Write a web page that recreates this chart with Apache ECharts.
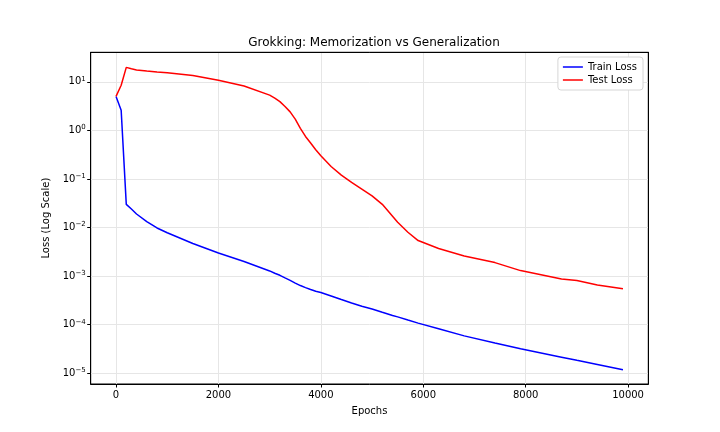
<!DOCTYPE html>
<html>
<head>
<meta charset="utf-8">
<script src="https://cdn.jsdelivr.net/npm/echarts@6/dist/echarts.min.js"></script>
<style>
  html, body { margin: 0; padding: 0; background: #fff; }
  #chart { width: 720px; height: 432px; }
</style>
</head>
<body>
<div id="chart"></div>
<script>
// epochs
var epochs = [0, 100, 200, 300, 400, 600, 800, 1000, 1500, 2000, 2500, 3000, 3100, 3200, 3300, 3400, 3500, 3600, 3700, 3800, 3900,
              4000, 4200, 4400, 4600, 4800, 5000, 5200, 5400, 5500, 5700, 5900, 6300, 6800, 7400, 7900, 8700, 9000, 9400, 9900]

var trainLoss = [5.0, 2.6, 0.030, 0.024, 0.019, 0.0132, 0.0098, 0.0078, 0.0047, 0.0030, 0.0020, 0.00128, 0.00115, 0.00104, 0.00092, 0.00082, 0.00072, 0.00064, 0.00058, 0.00053, 0.00049,
                 0.00046, 0.00039, 0.00033, 0.00028, 0.00024, 0.00021, 0.00018, 0.000155, 0.000145, 0.000125, 0.000108, 0.000083, 0.000059, 0.000042, 0.000032, 0.0000215, 0.0000185, 0.0000152, 0.0000118]

var testLoss = [5.0, 8.5, 19.8, 18.5, 17.5, 16.6, 15.9, 15.3, 13.5, 10.7, 8.2, 5.3, 4.6, 3.9, 3.1, 2.4, 1.7, 1.1, 0.75, 0.55, 0.40,
                0.30, 0.18, 0.12, 0.085, 0.062, 0.045, 0.030, 0.017, 0.0128, 0.008, 0.0054, 0.0037, 0.0026, 0.0019, 0.0013, 0.00087, 0.00081, 0.00066, 0.00055]

var xTicks = [0, 2000, 4000, 6000, 8000, 10000]

function pairs(ys) {
    return epochs.map(function (x, i) { return [x, ys[i]] })
}

var font = 'DejaVu Sans'
var myChart = echarts.init(document.getElementById('chart'), null, { renderer: 'canvas' })

var option = {
    animation: false,
    backgroundColor: '#fff',
    textStyle: { fontFamily: font },
    title: {
        text: 'Grokking: Memorization vs Generalization',
        left: 369,
        textAlign: 'center',
        top: 32,
        textStyle: { fontFamily: font, fontSize: 12, fontWeight: 'normal', color: '#000' }
    },
    legend: {
        orient: 'vertical',
        right: 77,
        top: 57,
        icon: 'rect',
        itemWidth: 20,
        itemHeight: 1.5,
        itemGap: 3,
        padding: [5, 6, 5, 5],
        borderColor: '#d6d6d6',
        borderWidth: 1,
        borderRadius: 3,
        backgroundColor: '#fff',
        textStyle: { fontFamily: font, fontSize: 10, color: '#000' },
        data: ['Train Loss', 'Test Loss']
    },
    grid: {
        left: 90.7,
        right: 71.7,
        top: 52.3,
        bottom: 48,
        show: true,
        borderColor: '#000',
        borderWidth: 1,
        containLabel: false
    },
    xAxis: [{
        type: 'value',
        min: -495,
        max: 10395,
        name: 'Epochs',
        nameLocation: 'middle',
        nameGap: 22,
        nameTextStyle: { fontFamily: font, fontSize: 10, color: '#000' },
        axisLine: { show: true, onZero: false, lineStyle: { color: '#000', width: 1 } },
        axisTick: { show: true, length: 3.5, lineStyle: { color: '#000' } },
        axisLabel: {
            showMinLabel: false,
            showMaxLabel: false,
            fontFamily: font, fontSize: 10, color: '#000', margin: 6,
            formatter: function (v) { return xTicks.indexOf(v) >= 0 ? String(v) : '' }
        },
        splitLine: { show: true, showMinLine: false, showMaxLine: false, lineStyle: { color: '#e6e6e6', width: 1 } }
    }, {
        type: 'value',
        position: 'top',
        min: -495,
        max: 10395,
        axisLine: { show: true, onZero: false, lineStyle: { color: '#000', width: 1 } },
        axisTick: { show: false },
        axisLabel: { show: false },
        splitLine: { show: false }
    }],
    yAxis: [{
        type: 'log',
        logBase: 10,
        min: 6.03e-6,
        max: 40.4,
        name: 'Loss (Log Scale)',
        nameLocation: 'middle',
        nameGap: 36,
        nameTextStyle: { fontFamily: font, fontSize: 10, color: '#000' },
        axisLine: { show: true, onZero: false, lineStyle: { color: '#000', width: 1 } },
        axisTick: { show: true, length: 3.5, lineStyle: { color: '#000' } },
        axisLabel: {
            showMinLabel: false,
            showMaxLabel: false,
            margin: 5,
            color: '#000',
            formatter: function (v) {
                var e = Math.round(Math.log10(v))
                if (Math.abs(Math.log10(v) - e) > 1e-6) return ''
                return '{b|10}{s|' + String(e).replace('-', '\u2212') + '}'
            },
            rich: {
                b: { fontFamily: font, fontSize: 10, color: '#000' },
                s: { fontFamily: font, fontSize: 7, color: '#000', verticalAlign: 'top', padding: [0, 0, 6, 0] }
            }
        },
        splitLine: { show: true, showMinLine: false, showMaxLine: false, lineStyle: { color: '#e6e6e6', width: 1 } }
    }, {
        type: 'value',
        position: 'right',
        min: 0,
        max: 1,
        axisLine: { show: true, onZero: false, lineStyle: { color: '#000', width: 1 } },
        axisTick: { show: false },
        axisLabel: { show: false },
        splitLine: { show: false }
    }],
    series: [
        {
            name: 'Train Loss',
            type: 'line',
            data: pairs(trainLoss),
            showSymbol: false,
            symbol: 'none',
            lineStyle: { color: '#0000ff', width: 1.5 },
            itemStyle: { color: '#0000ff' }
        },
        {
            name: 'Test Loss',
            type: 'line',
            data: pairs(testLoss),
            showSymbol: false,
            symbol: 'none',
            lineStyle: { color: '#ff0000', width: 1.5 },
            itemStyle: { color: '#ff0000' }
        }
    ]
}

myChart.setOption(option)
</script>
</body>
</html>
